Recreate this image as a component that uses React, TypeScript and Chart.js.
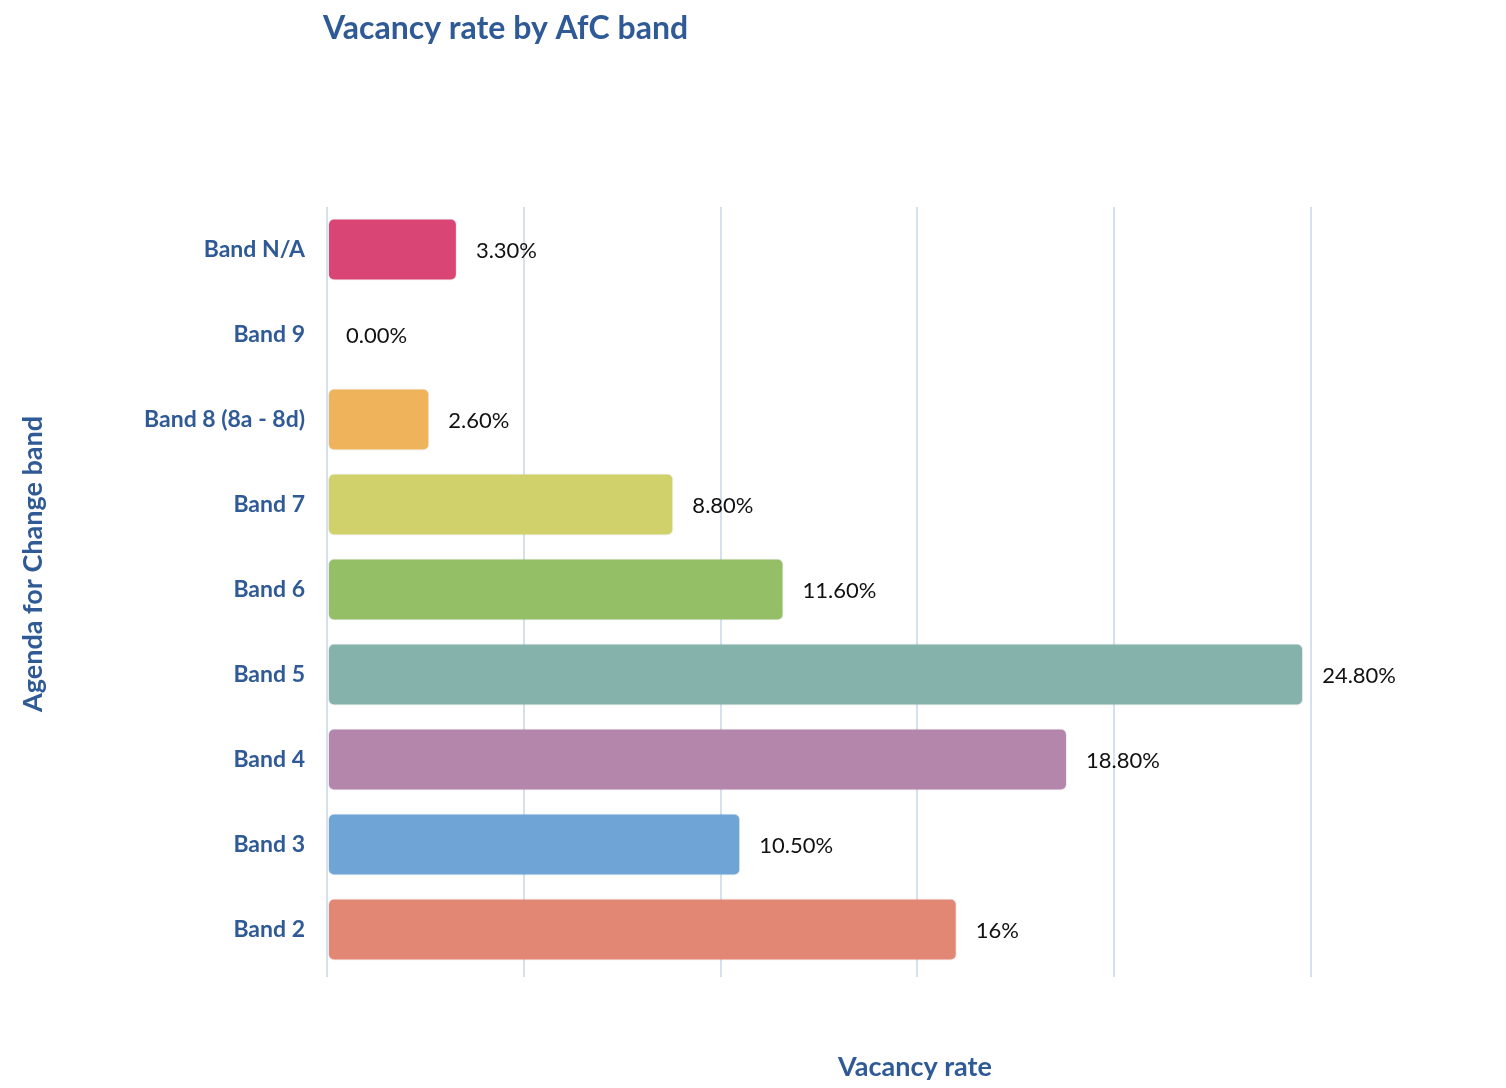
import React, { useEffect, useRef } from "react";
import { Chart, registerables } from "chart.js";

Chart.register(...registerables);

const categories = [
  "Band N/A",
  "Band 9",
  "Band 8 (8a - 8d)",
  "Band 7",
  "Band 6",
  "Band 5",
  "Band 4",
  "Band 3",
  "Band 2",
];
const vacancyRates = [3.3, 0, 2.6, 8.8, 11.6, 24.8, 18.8, 10.5, 16];
const valueLabels = ["3.30%", "0.00%", "2.60%", "8.80%", "11.60%", "24.80%", "18.80%", "10.50%", "16%"];
const barColors = [
  "#D94675",
  "#9DA3D0",
  "#EEB35B",
  "#D0D16A",
  "#94BF67",
  "#85B3AB",
  "#B486AC",
  "#6FA4D6",
  "#E38775",
];
const xTicks = [0, 5, 10, 15, 20, 25];

const chartTitle = "Vacancy rate by AfC band";
const xTitle = "Vacancy rate";
const yTitle = "Agenda for Change band";

const FONT = "Lato, 'Open Sans', sans-serif";
const BLUE = "#2F5A96";

const textPlugin = {
  id: "customText",
  afterDatasetsDraw(chart: any) {
    const { ctx, chartArea } = chart;
    ctx.save();
    // value labels
    const meta = chart.getDatasetMeta(0);
    ctx.font = `400 22px ${FONT}`;
    ctx.fillStyle = "#111111";
    ctx.textAlign = "left";
    ctx.textBaseline = "middle";
    meta.data.forEach((el: any, i: number) => {
      ctx.fillText(valueLabels[i], el.x + 19, el.y + 1);
    });
    // titles
    ctx.fillStyle = BLUE;
    ctx.font = `700 32px ${FONT}`;
    ctx.textAlign = "left";
    ctx.fillText(chartTitle, chartArea.left - 4, 29);
    ctx.font = `700 27px ${FONT}`;
    ctx.textAlign = "center";
    ctx.fillText(xTitle, 915, 1067);
    ctx.translate(33, 564);
    ctx.rotate(-Math.PI / 2);
    ctx.fillText(yTitle, 0, 0);
    ctx.restore();
  },
};

export default function App() {
  const ref = useRef<HTMLCanvasElement | null>(null);
  useEffect(() => {
    if (!ref.current) return;
    const chart = new Chart(ref.current, {
      type: "bar",
      data: {
        labels: categories,
        datasets: [
          {
            data: vacancyRates,
            backgroundColor: barColors,
            borderColor: "rgba(0,0,0,0.08)",
            borderWidth: 1,
            borderRadius: 6,
            borderSkipped: false,
            categoryPercentage: 1,
            barPercentage: 0.73,
          },
        ],
      },
      options: {
        indexAxis: "y",
        animation: false,
        responsive: false,
        maintainAspectRatio: false,
        layout: { padding: { top: 207, bottom: 111, left: 0, right: 195 } },
        plugins: {
          legend: { display: false },
          title: { display: false },
          tooltip: { enabled: false },
        },
        scales: {
          x: {
            min: 0,
            max: 25,
            afterBuildTicks: (scale: any) => {
              scale.ticks = xTicks.map((v) => ({ value: v }));
            },
            ticks: { display: false },
            grid: {
              color: "rgba(214,225,238,1)",
              lineWidth: 2,
              drawTicks: true,
              tickLength: 5,
            },
            border: { display: false },
          },
          y: {
            afterFit: (scale: any) => {
              scale.width = 327;
            },
            grid: { display: false },
            border: { display: false },
            ticks: {
              padding: 14,
              color: BLUE,
              font: { family: FONT, size: 23, weight: "bold" },
            },
          },
        },
      },
      plugins: [textPlugin],
    });
    return () => chart.destroy();
  }, []);
  return (
    <div style={{ position: "fixed", left: 0, top: 0, width: 1506, height: 1088, background: "#fff" }}>
      <canvas ref={ref} width={1506} height={1088} style={{ width: 1506, height: 1088 }} />
    </div>
  );
}
